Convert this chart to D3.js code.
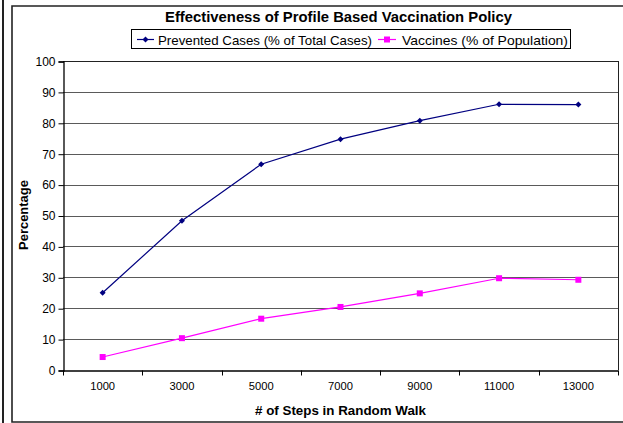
<!DOCTYPE html>
<html>
<head>
<meta charset="utf-8">
<script src="https://cdn.jsdelivr.net/npm/d3@7/dist/d3.min.js"></script>
<style>
  html, body { margin: 0; padding: 0; background: #fff; }
  svg { display: block; font-family: "Liberation Sans", Arial, sans-serif; }
</style>
</head>
<body>
<svg id="chart" width="623" height="423"></svg>
<script>
const steps = [1000, 3000, 5000, 7000, 9000, 11000, 13000];
const prevented = [25.0, 48.3, 66.6, 74.7, 80.7, 86.0, 85.9];
const vaccines = [4.2, 10.3, 16.6, 20.4, 24.8, 29.7, 29.2];
const yTicks = [0, 10, 20, 30, 40, 50, 60, 70, 80, 90, 100];
const titleText = "Effectiveness of Profile Based Vaccination Policy";
const seriesNames = ["Prevented Cases (% of Total Cases)", "Vaccines (% of Population)"];
const xTitle = "# of Steps in Random Walk";
const yTitle = "Percentage";

(function () {
const svg = d3.select("#chart");
const pLeft = 63, pRight = 618, pTop = 61, pBottom = 370;

// outer frames
svg.append("line").attr("x1", 3).attr("x2", 3).attr("y1", 0).attr("y2", 423)
  .attr("stroke", "#222").attr("stroke-width", 2);
svg.append("path").attr("d", "M630,6 H12 V422 H630")
  .attr("fill", "none").attr("stroke", "#222").attr("stroke-width", 1.6);

const x = d3.scaleBand().domain(steps).range([pLeft, pRight]).padding(0);
const y = d3.scaleLinear().domain([0, 100]).range([pBottom, pTop]);

// gridlines
svg.append("g").selectAll("line").data(yTicks.filter(d => d > 0)).join("line")
  .attr("x1", pLeft).attr("x2", pRight)
  .attr("y1", d => Math.round(y(d)) + 0.5).attr("y2", d => Math.round(y(d)) + 0.5)
  .attr("stroke", d => d === 100 ? "#222" : "#5a5a5a").attr("stroke-width", 1.1);

// right border of plot
svg.append("line").attr("x1", pRight + 0.5).attr("x2", pRight + 0.5)
  .attr("y1", Math.round(y(100))).attr("y2", Math.round(y(0)))
  .attr("stroke", "#222");

// y axis
svg.append("g").attr("transform", `translate(${pLeft + 0.5},0.5)`)
  .call(d3.axisLeft(y).tickValues(yTicks).tickSize(5).tickPadding(3))
  .call(g => g.selectAll("path.domain").attr("stroke", "#000").attr("stroke-width", 1.3))
  .call(g => g.selectAll(".tick line").attr("stroke", "#000"))
  .call(g => g.selectAll("text").attr("font-size", 12).attr("fill", "#000")
    .attr("font-family", "Liberation Sans, Arial, sans-serif"));

// x axis: labels centered, ticks at category boundaries
const xAxis = svg.append("g").attr("transform", `translate(0,${Math.round(y(0)) + 0.5})`)
  .call(d3.axisBottom(x).tickSize(0).tickPadding(12).tickSizeOuter(0))
  .call(g => g.selectAll("path.domain").attr("stroke", "#000").attr("stroke-width", 1.3))
  .call(g => g.selectAll("text").attr("font-size", 11.2).attr("fill", "#000")
    .attr("font-family", "Liberation Sans, Arial, sans-serif"));
xAxis.selectAll("line.bound").data(steps.map(d => x(d)).concat([x(steps[steps.length - 1]) + x.bandwidth()]))
  .join("line").attr("class", "bound")
  .attr("x1", d => Math.round(d) + 0.5).attr("x2", d => Math.round(d) + 0.5)
  .attr("y1", 0).attr("y2", 5).attr("stroke", "#000");

// lines
const cx = d => x(d) + x.bandwidth() / 2;
const line = d3.line().x((d, i) => cx(steps[i])).y(d => y(d));

svg.append("path").datum(prevented).attr("d", line)
  .attr("fill", "none").attr("stroke", "#000080").attr("stroke-width", 1.2);
svg.append("path").datum(vaccines).attr("d", line)
  .attr("fill", "none").attr("stroke", "#FF00FF").attr("stroke-width", 1.2);

const diamond = d3.symbol().type(d3.symbolSquare).size(18);
svg.append("g").selectAll("path").data(prevented).join("path")
  .attr("d", diamond)
  .attr("transform", (d, i) => `translate(${cx(steps[i])},${y(d)}) rotate(45)`)
  .attr("fill", "#000080");
svg.append("g").selectAll("rect").data(vaccines).join("rect")
  .attr("x", (d, i) => cx(steps[i]) - 3).attr("y", d => y(d) - 3)
  .attr("width", 6).attr("height", 6).attr("fill", "#FF00FF");

// title
svg.append("text").attr("x", 338.5).attr("y", 22).attr("text-anchor", "middle")
  .attr("font-size", 14).attr("font-weight", "bold")
  .attr("textLength", 347).attr("lengthAdjust", "spacingAndGlyphs").text(titleText);

// legend
const lg = svg.append("g");
lg.append("rect").attr("x", 131.5).attr("y", 29.5).attr("width", 439).attr("height", 19)
  .attr("fill", "#fff").attr("stroke", "#000");
lg.append("line").attr("x1", 137).attr("x2", 154).attr("y1", 39.5).attr("y2", 39.5)
  .attr("stroke", "#000080").attr("stroke-width", 1.2);
lg.append("path").attr("d", diamond).attr("transform", "translate(145.5,39.5) rotate(45)").attr("fill", "#000080");
lg.append("text").attr("x", 158).attr("y", 44.5).attr("font-size", 13.5)
  .attr("textLength", 214).attr("lengthAdjust", "spacingAndGlyphs").text(seriesNames[0]);
lg.append("line").attr("x1", 378).attr("x2", 396).attr("y1", 39.5).attr("y2", 39.5)
  .attr("stroke", "#FF00FF").attr("stroke-width", 1.2);
lg.append("rect").attr("x", 384).attr("y", 36.5).attr("width", 6).attr("height", 6).attr("fill", "#FF00FF");
lg.append("text").attr("x", 402).attr("y", 44.5).attr("font-size", 13.5)
  .attr("textLength", 166).attr("lengthAdjust", "spacingAndGlyphs").text(seriesNames[1]);

// axis titles
svg.append("text").attr("x", 340.5).attr("y", 415).attr("text-anchor", "middle")
  .attr("font-size", 13.5).attr("font-weight", "bold")
  .attr("textLength", 171).attr("lengthAdjust", "spacingAndGlyphs").text(xTitle);
svg.append("text").attr("transform", "translate(28,215) rotate(-90)").attr("text-anchor", "middle")
  .attr("font-size", 13.5).attr("font-weight", "bold")
  .attr("textLength", 70).attr("lengthAdjust", "spacingAndGlyphs").text(yTitle);
})();
</script>
</body>
</html>
